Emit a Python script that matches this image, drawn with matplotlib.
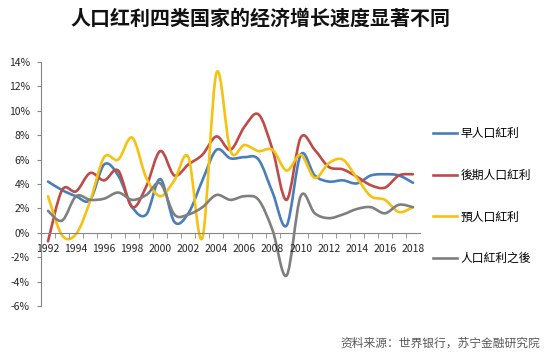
import matplotlib
matplotlib.use("Agg")
import matplotlib.pyplot as plt
from matplotlib.path import Path
from matplotlib.patches import PathPatch
from matplotlib.lines import Line2D

plt.rcParams["font.family"] = ["Noto Sans CJK SC", "DejaVu Sans"]

years = list(range(1992, 2019))

early = [4.2, 3.5, 3.0, 2.7, 5.6, 4.7, 2.1, 1.5, 4.4, 0.9, 1.6, 4.3, 6.8, 6.1,
         6.2, 6.0, 3.3, 0.6, 6.4, 4.7, 4.2, 4.3, 4.05, 4.7, 4.8, 4.7, 4.1]
late = [-0.7, 3.5, 3.4, 4.9, 4.3, 5.1, 2.1, 3.8, 6.7, 4.7, 5.6, 6.4, 7.9, 6.8,
        8.7, 9.7, 6.8, 2.7, 7.8, 6.8, 5.4, 5.2, 4.6, 3.9, 3.7, 4.7, 4.8]
pre = [3.0, -0.2, -0.1, 2.6, 6.2, 6.0, 7.8, 4.5, 3.0, 4.3, 6.2, -0.4, 13.1, 6.7,
       7.2, 6.7, 6.8, 5.1, 6.4, 4.5, 5.7, 6.0, 4.5, 3.0, 2.7, 1.7, 2.1]
after = [1.8, 1.0, 3.0, 2.7, 2.8, 3.3, 2.7, 3.1, 4.05, 1.5, 1.5, 2.1, 3.1, 2.7,
         3.0, 2.7, 0.2, -3.5, 3.0, 1.6, 1.2, 1.5, 1.95, 2.1, 1.6, 2.3, 2.1]

series_names = ["早人口紅利", "後期人口紅利", "預人口紅利", "人口紅利之後"]
series_colors = ["#4A7EBB", "#BE4B48", "#F5C211", "#7F7F7F"]

y_ticks = [-6, -4, -2, 0, 2, 4, 6, 8, 10, 12, 14]
y_tick_labels = ["-6%", "-4%", "-2%", "0%", "2%", "4%", "6%", "8%", "10%", "12%", "14%"]
x_ticks = list(range(1992, 2019, 2))

title = "人口红利四类国家的经济增长速度显著不同"
source = "资料来源：世界银行，苏宁金融研究院"


def smooth_path(xs, ys):
    # Bezier segments like Excel's smoothed line
    pts = list(zip(xs, ys))
    n = len(pts)
    verts = [pts[0]]
    codes = [Path.MOVETO]
    for i in range(n - 1):
        p0 = pts[max(i - 1, 0)]
        p1 = pts[i]
        p2 = pts[i + 1]
        p3 = pts[min(i + 2, n - 1)]
        c1 = (p1[0] + (p2[0] - p0[0]) / 6, p1[1] + (p2[1] - p0[1]) / 6)
        c2 = (p2[0] - (p3[0] - p1[0]) / 6, p2[1] - (p3[1] - p1[1]) / 6)
        verts += [c1, c2, p2]
        codes += [Path.CURVE4] * 3
    return Path(verts, codes)


def main():
    fig = plt.figure(figsize=(5.48, 3.53), dpi=100)
    ax = fig.add_axes([0.0748, 0.1331, 0.6916, 0.6913])

    handles = []
    for values, name, color in zip([early, late, pre, after], series_names, series_colors):
        patch = PathPatch(smooth_path(years, values), facecolor="none",
                          edgecolor=color, linewidth=1.9, capstyle="round",
                          joinstyle="round")
        ax.add_patch(patch)
        handles.append(Line2D([], [], color=color, linewidth=1.9))

    ax.set_xlim(1991.5, 2018.5)
    ax.set_ylim(-6, 14)

    for side in ["top", "right"]:
        ax.spines[side].set_visible(False)
    ax.spines["left"].set_color("#868686")
    ax.spines["bottom"].set_color("#868686")
    ax.spines["bottom"].set_position(("data", 0))

    ax.set_yticks(y_ticks)
    ax.set_yticklabels(y_tick_labels)
    ax.set_xticks(x_ticks)
    ax.set_xticklabels([str(x) for x in x_ticks])
    ax.xaxis.set_minor_locator(plt.FixedLocator([y + 0.5 for y in range(1992, 2018)]))

    ax.tick_params(axis="y", length=3, color="#868686", labelsize=7.5,
                   labelcolor="#262626", pad=5)
    ax.tick_params(axis="x", which="major", length=0, labelsize=7.5,
                   labelcolor="#262626", pad=8)
    ax.tick_params(axis="x", which="minor", length=3.5, color="#868686")

    fig.legend(handles, series_names, loc="center left",
               bbox_to_anchor=(0.77, 0.444), frameon=False, fontsize=8.5,
               handlelength=2.1, handletextpad=0.3, labelspacing=2.42)

    fig.text(0.476, 0.95, title, ha="center", va="center", fontsize=14.4,
             fontweight="bold", color="#111111")
    fig.text(0.985, 0.028, source, ha="right", va="center", fontsize=8.5,
             style="italic", color="#595959")

    fig.savefig("out.png", dpi=100)


if __name__ == "__main__":
    main()
